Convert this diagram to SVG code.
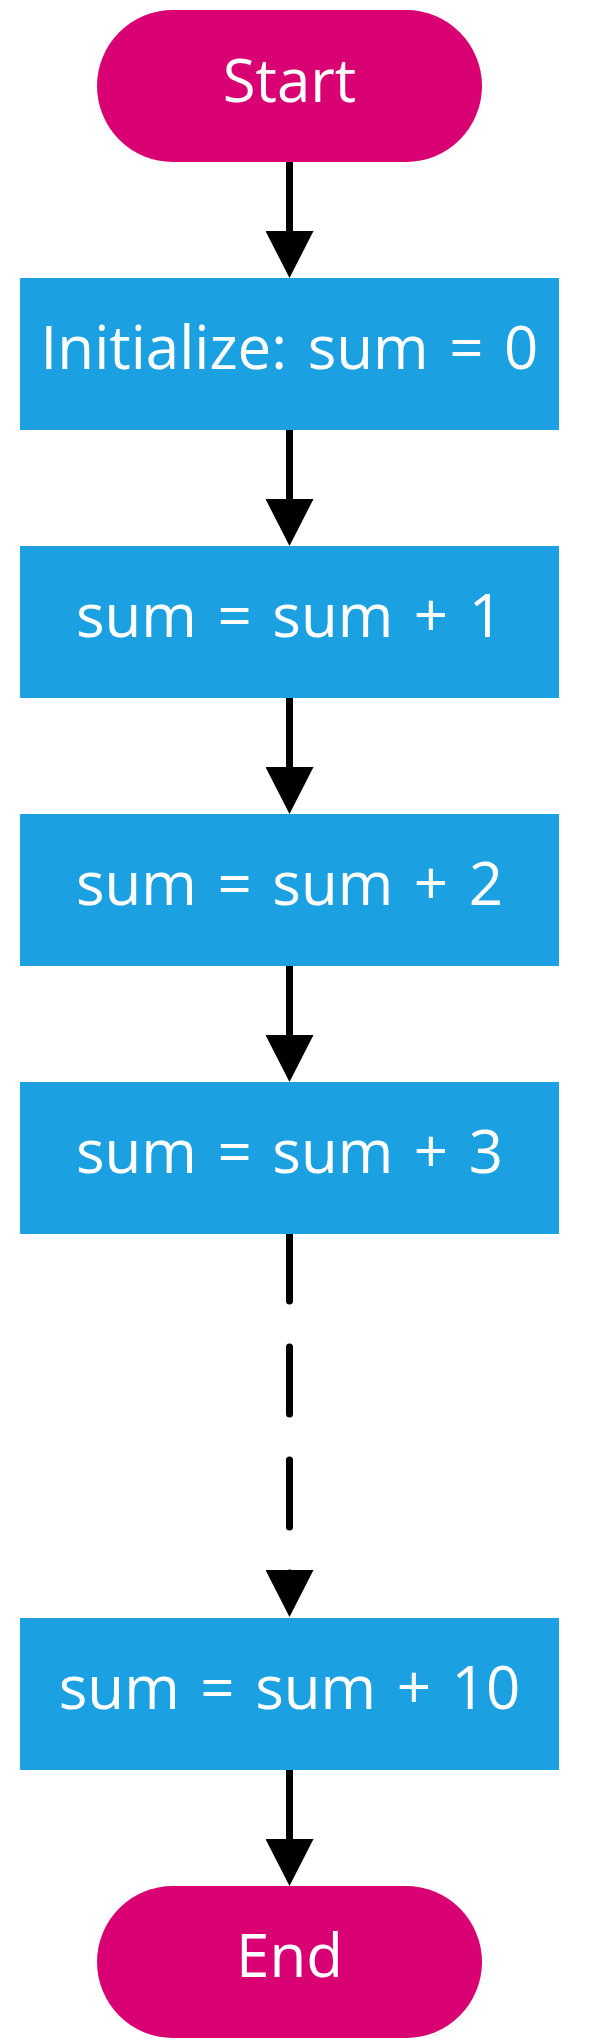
<svg xmlns="http://www.w3.org/2000/svg" width="591" height="2044" viewBox="0 0 591 2044">
<style>
.term{fill:#d80073}
.proc{fill:#1ba1e2}
.lbl{fill:#ffffff;font-family:"Open Sans","Noto Sans",sans-serif;font-size:60px;text-anchor:middle;word-spacing:5px}
.edge{stroke:#000;stroke-width:7;stroke-linecap:round;fill:none}
.dash{stroke-dasharray:67 46}
</style>
<defs>
<marker id="arr" viewBox="0 0 47 48" refX="5" refY="24" markerWidth="47" markerHeight="48" markerUnits="userSpaceOnUse" orient="auto">
<path d="M0,0 L47,24 L0,48 Z" fill="#000"/>
</marker>
</defs>
<g id="connectors">
<path class="edge" d="M289.5,163 L289.5,236" marker-end="url(#arr)"/>
<path class="edge" d="M289.5,430 L289.5,504" marker-end="url(#arr)"/>
<path class="edge" d="M289.5,698 L289.5,772" marker-end="url(#arr)"/>
<path class="edge" d="M289.5,966 L289.5,1040" marker-end="url(#arr)"/>
<path class="edge dash" d="M289.5,1234 L289.5,1575" marker-end="url(#arr)"/>
<path class="edge" d="M289.5,1770 L289.5,1844" marker-end="url(#arr)"/>
</g>
<g id="start">
<rect class="term" x="97" y="10" width="385" height="152" rx="76" ry="76"/>
<text class="lbl" x="289.5" y="102">Start</text>
</g>
<g id="init">
<rect class="proc" x="20" y="278" width="539" height="152"/>
<text class="lbl" x="289.5" y="369">Initialize: sum = 0</text>
</g>
<g id="add1">
<rect class="proc" x="20" y="546" width="539" height="152"/>
<text class="lbl" x="289.5" y="637">sum = sum + 1</text>
</g>
<g id="add2">
<rect class="proc" x="20" y="814" width="539" height="152"/>
<text class="lbl" x="289.5" y="905">sum = sum + 2</text>
</g>
<g id="add3">
<rect class="proc" x="20" y="1082" width="539" height="152"/>
<text class="lbl" x="289.5" y="1173">sum = sum + 3</text>
</g>
<g id="add10">
<rect class="proc" x="20" y="1618" width="539" height="152"/>
<text class="lbl" x="289.5" y="1709">sum = sum + 10</text>
</g>
<g id="end">
<rect class="term" x="97" y="1886" width="385" height="152" rx="76" ry="76"/>
<text class="lbl" x="289.5" y="1977">End</text>
</g>
</svg>
